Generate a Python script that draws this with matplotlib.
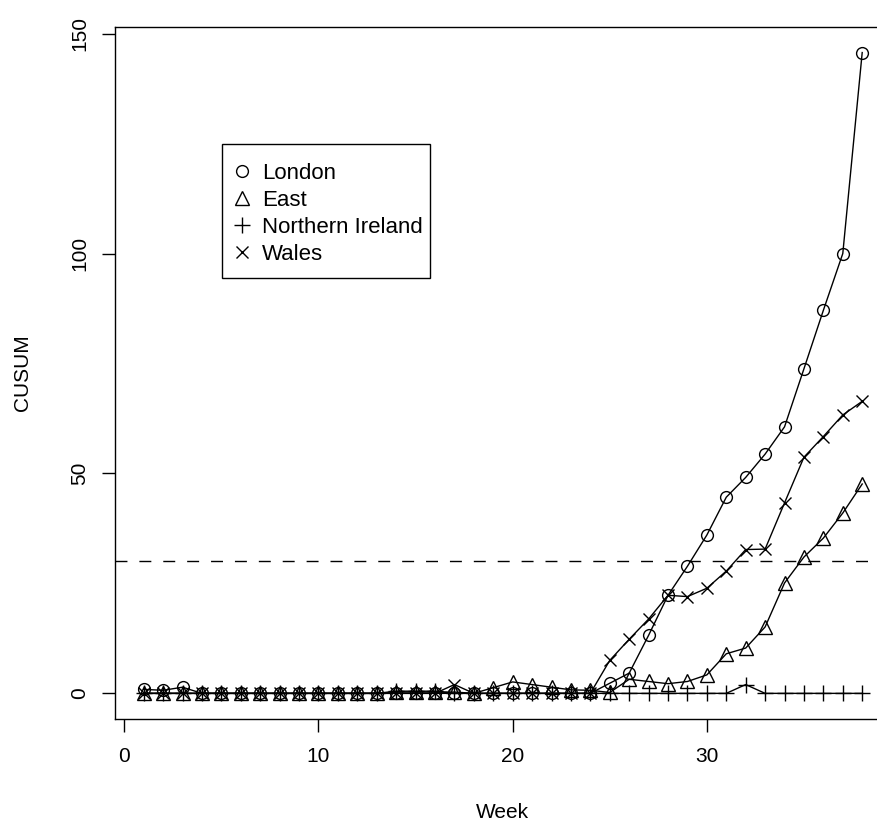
import matplotlib
matplotlib.use('Agg')
import matplotlib.pyplot as plt
from matplotlib.lines import Line2D
from matplotlib.patches import Rectangle

plt.rcParams['font.family'] = ['Liberation Sans', 'DejaVu Sans']

# Données (CUSUM par semaine)
weeks = list(range(1, 39))
london = [0.9, 0.7, 1.4] + [0] * 21 + [2.3, 4.6, 13.2, 22.3, 28.9, 36.0, 44.6, 49.1,
                                       54.4, 60.6, 73.8, 87.1, 100.0, 145.7]
east = [0] * 13 + [0.3, 0.3, 0.3, 0.3, 0, 1.3, 2.6, 2.0, 1.4, 0.8, 0.7, 0.2,
                   3.2, 2.7, 2.2, 2.7, 4.2, 9.0, 10.3, 15.1, 25.1, 31.0, 35.3, 41.0, 47.6]
nireland = [0] * 13 + [0.5, 0.5, 0.5] + [0] * 15 + [2.0] + [0] * 6
wales = [0] * 16 + [2.0] + [0] * 7 + [7.5, 12.3, 16.9, 22.3, 22.0, 23.9, 27.8, 32.7,
                                     32.8, 43.3, 53.7, 58.4, 63.3, 66.4]
threshold = 30

series = [('London', london, 'o', 8.5),
          ('East', east, '^', 10),
          ('Northern Ireland', nireland, '+', 11),
          ('Wales', wales, 'x', 8)]

W, H = 877, 822
fig = plt.figure(figsize=(W / 100, H / 100), dpi=100)
ax = fig.add_axes([0.1311, 0.1253, 0.8848, 0.8418])

for name, vals, m, ms in series:
    ax.plot(weeks, vals, color='black', lw=1.0, marker=m, markersize=ms,
            markerfacecolor='none', markeredgecolor='black', markeredgewidth=1.0)

ax.axhline(threshold, color='black', lw=1.0, dashes=(8.6, 8.6))

ax.set_xlim(-0.48, 39.48)
ax.set_ylim(-5.83, 151.5)
ax.set_xticks([0, 10, 20, 30])
ax.set_yticks([0, 50, 100, 150])
ax.tick_params(length=9.4, width=1.0, labelsize=15, direction='out')
ax.tick_params(axis='x', pad=11)
ax.tick_params(axis='y', pad=9)
for lab in ax.get_yticklabels():
    lab.set_rotation(90)
    lab.set_va('center')
for s in ax.spines.values():
    s.set_linewidth(1.0)
ax.spines['right'].set_visible(False)

ax.set_xlabel('Week', fontsize=15, va='center')
ax.xaxis.set_label_coords(0.5, -0.1358)
ax.set_ylabel('CUSUM', fontsize=15, va='center')
ax.yaxis.set_label_coords(-0.1192, 0.5)

# légende : cadre dessiné à part, contenu sans cadre
cadre = Rectangle((222 / W, 1 - 278 / H), 208 / W, 134 / H, transform=fig.transFigure,
                  facecolor='white', edgecolor='black', lw=1.0, zorder=5, clip_on=False)
ax.add_patch(cadre)
handles = [Line2D([], [], color='black', marker=m, markersize=ms, linestyle='none',
                  markerfacecolor='none', markeredgewidth=1.0)
           for name, vals, m, ms in series]
leg = ax.legend(handles, [s[0] for s in series], loc='upper left',
                bbox_to_anchor=(231 / W, 1 - 163 / H), bbox_transform=fig.transFigure,
                borderaxespad=0, frameon=False, fontsize=16, handlelength=1.0,
                handletextpad=0.4, labelspacing=0.27, borderpad=0)
leg.set_zorder(6)

plt.savefig('out.png', dpi=100)
